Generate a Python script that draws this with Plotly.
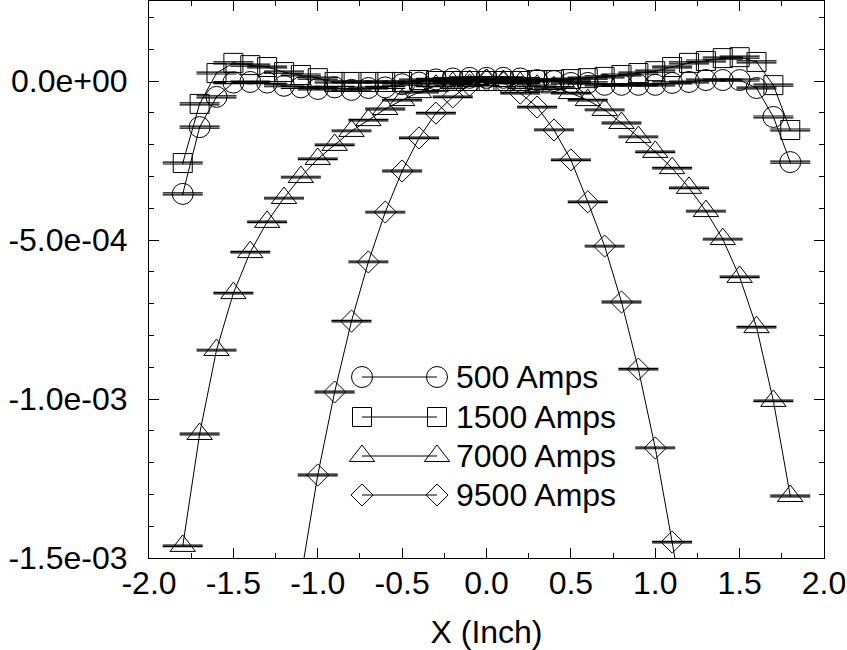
import plotly.graph_objects as go

# ---------------- data ----------------
x_pos = [-1.8, -1.7, -1.6, -1.5, -1.4, -1.3, -1.2, -1.1, -1.0, -0.9, -0.8, -0.7, -0.6,
         -0.5, -0.4, -0.3, -0.2, -0.1, 0.0, 0.1, 0.2, 0.3, 0.4, 0.5, 0.6, 0.7, 0.8,
         0.9, 1.0, 1.1, 1.2, 1.3, 1.4, 1.5, 1.6, 1.7, 1.8]

amps500 = [-3.55e-4, -1.45e-4, -0.5e-4, -0.05e-4, -0.03e-4, -0.05e-4, -0.15e-4, -0.2e-4,
           -0.25e-4, -0.2e-4, -0.28e-4, -0.22e-4, -0.2e-4, -0.1e-4, -0.05e-4, 0.05e-4,
           0.08e-4, 0.1e-4, 0.1e-4, 0.1e-4, 0.08e-4, 0.03e-4, 0.0, -0.06e-4, -0.06e-4,
           -0.12e-4, -0.12e-4, -0.12e-4, -0.12e-4, -0.06e-4, -0.03e-4, 0.03e-4, 0.03e-4,
           0.03e-4, -0.22e-4, -1.13e-4, -2.55e-4]

amps1500 = [-2.58e-4, -0.72e-4, 0.25e-4, 0.57e-4, 0.5e-4, 0.44e-4, 0.28e-4, 0.19e-4,
            0.09e-4, -0.03e-4, -0.03e-4, -0.03e-4, -0.03e-4, -0.03e-4, 0.03e-4, 0.0,
            0.0, 0.0, 0.0, 0.0, 0.0, 0.03e-4, 0.03e-4, 0.06e-4, 0.09e-4, 0.13e-4,
            0.19e-4, 0.25e-4, 0.31e-4, 0.44e-4, 0.57e-4, 0.63e-4, 0.72e-4, 0.75e-4,
            0.6e-4, -0.13e-4, -1.54e-4]

amps7000 = [-14.62e-4, -11.1e-4, -8.46e-4, -6.67e-4, -5.38e-4, -4.43e-4, -3.68e-4,
            -3.02e-4, -2.45e-4, -2.01e-4, -1.57e-4, -1.23e-4, -0.88e-4, -0.6e-4,
            -0.35e-4, -0.15e-4, -0.06e-4, 0.0, 0.03e-4, 0.0, -0.06e-4, -0.15e-4,
            -0.2e-4, -0.38e-4, -0.6e-4, -0.91e-4, -1.32e-4, -1.76e-4, -2.23e-4,
            -2.74e-4, -3.36e-4, -4.09e-4, -4.97e-4, -6.16e-4, -7.74e-4, -10.06e-4,
            -13.05e-4]

x_pos9500 = [-1.1, -1.0, -0.9, -0.8, -0.7, -0.6, -0.5, -0.4, -0.3, -0.2, -0.1, 0.0,
             0.1, 0.2, 0.3, 0.4, 0.5, 0.6, 0.7, 0.8, 0.9, 1.0, 1.1, 1.2]
amps9500 = [-15.6e-4, -12.39e-4, -9.78e-4, -7.55e-4, -5.69e-4, -4.12e-4, -2.83e-4,
            -1.79e-4, -1.01e-4, -0.5e-4, -0.13e-4, 0.03e-4, -0.06e-4, -0.38e-4,
            -0.82e-4, -1.54e-4, -2.48e-4, -3.8e-4, -5.19e-4, -6.95e-4, -9.06e-4,
            -11.54e-4, -14.5e-4, -17.6e-4]

err500 = [3e-6] * len(x_pos)
err1500 = [3e-6] * len(x_pos)
err7000 = [2.5e-6] * len(x_pos)
err9500 = [2.5e-6] * len(x_pos9500)

series_names = ["500 Amps", "1500 Amps", "7000 Amps", "9500 Amps"]

x_tickvals = [-2.0, -1.5, -1.0, -0.5, 0.0, 0.5, 1.0, 1.5, 2.0]
x_ticktext = ["-2.0", "-1.5", "-1.0", "-0.5", "0.0", "0.5", "1.0", "1.5", "2.0"]
y_tickvals = [-1.5e-3, -1.0e-3, -5.0e-4, 0.0]
y_ticktext = ["-1.5e-03", "-1.0e-03", "-5.0e-04", "0.0e+00"]

# ---------------- style ----------------
FONT = "Liberation Sans, Arial, sans-serif"
FS = 32
styles = [
    dict(symbol="circle-open", size=21),
    dict(symbol="square-open", size=19),
    dict(symbol="triangle-up-open", size=22),
    dict(symbol="diamond-open", size=17),
]

fig = go.Figure()
data_sets = [(x_pos, amps500, err500), (x_pos, amps1500, err1500),
             (x_pos, amps7000, err7000), (x_pos9500, amps9500, err9500)]
for (xs, ys, es), st, nm in zip(data_sets, styles, series_names):
    fig.add_trace(go.Scatter(
        x=xs, y=ys, name=nm, mode="lines+markers",
        line=dict(color="black", width=1),
        marker=dict(symbol=st["symbol"], size=st["size"], color="black",
                    line=dict(width=1, color="black")),
        error_y=dict(type="data", array=es, visible=True, color="black",
                     thickness=1.2, width=20),
        showlegend=False,
    ))

# ---------------- custom legend (overlay axis in pixel units) ----------------
L, R, T, B = 149, 824, 1, 558
leg_rows = [377, 417, 456, 495]
leg_x0, leg_x1, leg_text_x = 362, 437, 454
for row_y, st, nm in zip(leg_rows, styles, series_names):
    fig.add_trace(go.Scatter(
        x=[leg_x0, leg_x1], y=[row_y, row_y], mode="lines+markers",
        xaxis="x2", yaxis="y2", showlegend=False, hoverinfo="skip",
        line=dict(color="black", width=1),
        marker=dict(symbol=st["symbol"], size=st["size"], color="black",
                    line=dict(width=1, color="black")),
        cliponaxis=False,
    ))
    fig.add_annotation(x=leg_text_x, y=row_y, xref="x2", yref="y2", text=nm,
                       showarrow=False, xanchor="left", yanchor="middle",
                       font=dict(family=FONT, size=FS, color="black"))

fig.update_layout(
    width=847, height=650,
    margin=dict(l=L, r=847 - R, t=T, b=650 - B),
    paper_bgcolor="white", plot_bgcolor="white",
    font=dict(family=FONT, size=FS, color="black"),
    showlegend=False,
    xaxis=dict(
        range=[-2.0, 2.0], tickmode="array", tickvals=x_tickvals, ticktext=x_ticktext,
        ticks="inside", ticklen=10, tickwidth=1, tickcolor="black",
        minor=dict(dtick=0.25, tick0=-2.0, ticks="inside", ticklen=5,
                   tickwidth=1, tickcolor="black"),
        showline=True, linecolor="black", linewidth=1, mirror="ticks",
        showgrid=False, zeroline=False, ticklabelstandoff=-3,
        title=dict(text="X (Inch)", font=dict(family=FONT, size=FS), standoff=21),
    ),
    yaxis=dict(
        range=[-1.5e-3, 2.516e-4], tickmode="array", tickvals=y_tickvals,
        ticktext=y_ticktext,
        ticks="inside", ticklen=10, tickwidth=1, tickcolor="black",
        minor=dict(dtick=1e-4, tick0=0.0, ticks="inside", ticklen=5,
                   tickwidth=1, tickcolor="black"),
        showline=True, linecolor="black", linewidth=1, mirror="ticks",
        showgrid=False, zeroline=False, ticklabelstandoff=14,
    ),
    xaxis2=dict(range=[L, R], overlaying="x", visible=False, fixedrange=True),
    yaxis2=dict(range=[B, T], overlaying="y", visible=False, fixedrange=True),
)

fig.write_html("out.html", config={"displayModeBar": False},
               post_script="document.body.style.margin='0px';document.body.style.padding='0px';")
